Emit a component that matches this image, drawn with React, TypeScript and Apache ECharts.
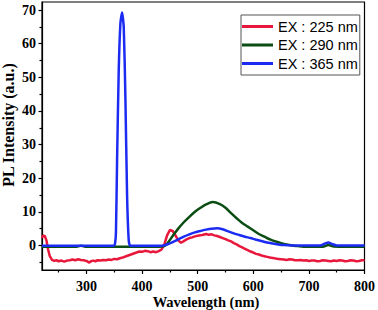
import React, { useEffect, useRef } from "react";
import * as echarts from "echarts";

const seriesNames = ["EX : 225 nm", "EX : 290 nm", "EX : 365 nm"];

const red225: [number, number][] = [
  [220, 2.2], [222, 3.0], [225, 2.8], [228, 1.5], [231, -1.2], [234, -3.2], [238, -4.3],
  [242, -4.6], [246, -4.4], [250, -4.7], [255, -4.5], [260, -4.8], [265, -4.5], [270, -4.4],
  [275, -4.2], [280, -4.4], [285, -4.1], [290, -4.3], [295, -4.4], [300, -4.6], [305, -5.1],
  [308, -4.7], [312, -4.5], [316, -4.7], [320, -4.4], [325, -4.5], [330, -4.3], [335, -4.4],
  [340, -4.2], [345, -4.3], [350, -4.0], [355, -4.1], [360, -3.8], [365, -3.6], [370, -3.3],
  [375, -3.0], [380, -2.7], [385, -2.4], [390, -2.1], [395, -1.8], [400, -1.9], [405, -1.6],
  [410, -1.7], [415, -2.0], [420, -1.8], [425, -2.0], [430, -1.7], [435, -1.2], [440, 0.3],
  [445, 3.0], [450, 4.6], [455, 4.3], [460, 3.0], [465, 1.5], [470, 0.8], [475, 1.3],
  [480, 1.8], [485, 2.2], [490, 2.4], [495, 2.7], [500, 2.9], [505, 3.0], [510, 3.2],
  [515, 3.4], [520, 3.2], [525, 3.3], [530, 3.0], [535, 2.8], [540, 2.5], [545, 2.2],
  [550, 1.9], [555, 1.5], [560, 1.2], [565, 0.7], [570, 0.3], [575, -0.2], [580, -0.6],
  [585, -1.0], [590, -1.4], [595, -1.8], [600, -2.1], [605, -2.5], [610, -2.7], [615, -3.0],
  [620, -3.2], [625, -3.4], [630, -3.6], [635, -3.7], [640, -3.9], [645, -4.0], [650, -4.1],
  [655, -4.2], [660, -4.3], [665, -4.1], [670, -4.2], [675, -4.4], [680, -4.4], [685, -4.3],
  [690, -4.5], [695, -4.4], [700, -4.6], [705, -4.5], [710, -4.5], [715, -4.7], [720, -4.6],
  [725, -4.4], [730, -4.5], [735, -4.6], [740, -4.7], [745, -4.5], [750, -4.6], [755, -4.4],
  [760, -4.5], [765, -4.7], [770, -4.6], [775, -4.4], [780, -4.5], [785, -4.7], [790, -4.6],
  [795, -4.4], [800, -4.4],
];

const green290: [number, number][] = [
  [220, -0.4], [280, -0.4], [290, -0.1], [300, -0.4], [430, -0.4], [440, -0.2], [445, 0.5],
  [455, 2.8], [465, 5.0], [475, 6.9], [485, 8.5], [495, 10.0], [505, 11.2], [515, 12.2],
  [527, 12.9], [540, 12.3], [550, 11.2], [560, 9.6], [570, 8.1], [580, 6.7], [590, 5.6],
  [600, 4.5], [610, 3.4], [620, 2.6], [630, 1.8], [640, 1.2], [650, 0.7], [660, 0.3],
  [670, 0.0], [680, -0.2], [690, -0.4], [725, -0.4], [735, 0.1], [745, -0.3], [800, -0.4],
];

const blue365: [number, number][] = [
  [220, -0.1], [348, -0.1], [351, 0.3], [353, 4], [355, 25], [358, 52], [361, 66], [364, 69.3],
  [367, 65], [370, 44], [373, 15], [376, 1.5], [379, -0.1], [435, -0.1], [445, 0.3],
  [455, 1.0], [465, 1.8], [475, 2.6], [485, 3.3], [495, 3.9], [505, 4.3], [515, 4.7],
  [525, 5.0], [535, 5.1], [545, 4.8], [555, 4.2], [565, 3.6], [575, 3.1], [585, 2.6],
  [595, 2.2], [605, 1.7], [615, 1.3], [625, 0.9], [635, 0.6], [645, 0.3], [655, 0.1],
  [670, 0], [720, 0], [728, 0.5], [735, 0.9], [742, 0.4], [750, 0], [800, 0],
];

const xMajorTicks = [300, 400, 500, 600, 700, 800];
const xMinorTicks = [250, 350, 450, 550, 650, 750];
const yMajorTicks = [0, 10, 20, 30, 40, 50, 60, 70];
const yMinorTicks = [-5, 5, 15, 25, 35, 45, 55, 65];

const colors = ["#e8183c", "#0b4d12", "#1c2bf2"];

export default function App() {
  const ref = useRef<HTMLDivElement>(null);
  useEffect(() => {
    if (!ref.current) return;
    const chart = echarts.init(ref.current, undefined, { renderer: "svg" });
    const serif = "'Liberation Serif', 'Times New Roman', serif";
    const xMin = 220, xMax = 800, yMin = -7.3, yMax = 72.4;
    const xBase = {
      type: "value" as const,
      min: xMin,
      max: xMax,
      position: "bottom" as const,
      splitLine: { show: false },
    };
    const yBase = {
      type: "value" as const,
      min: yMin,
      max: yMax,
      position: "left" as const,
      splitLine: { show: false },
    };
    chart.setOption({
      animation: false,
      grid: {
        left: 42, right: 12.5, top: 2, bottom: 40,
        show: true, borderColor: "#000", borderWidth: 1.2, containLabel: false,
      },
      legend: {
        orient: "vertical",
        left: 241,
        top: 15,
        icon: "rect",
        itemWidth: 31,
        itemHeight: 3,
        itemGap: 3.5,
        padding: [4, 2, 4, 1],
        borderColor: "#555",
        borderWidth: 1,
        textStyle: { fontFamily: "'Liberation Sans', Arial, sans-serif", fontSize: 14.5, color: "#000" },
        data: seriesNames,
      },
      xAxis: [
        {
          ...xBase,
          axisLine: { show: true, onZero: false, lineStyle: { color: "#000", width: 1.2 } },
          axisTick: { show: true, length: 4, customValues: xMajorTicks, lineStyle: { color: "#000", width: 1.2 } },
          axisLabel: {
            customValues: xMajorTicks, margin: 9, color: "#000",
            fontFamily: serif, fontWeight: "bold", fontSize: 14,
          },
        },
        {
          ...xBase,
          axisLine: { show: false, onZero: false },
          axisTick: { show: true, length: 2.5, customValues: xMinorTicks, lineStyle: { color: "#000", width: 1.2 } },
          axisLabel: { show: false },
        },
      ],
      yAxis: [
        {
          ...yBase,
          axisLine: { show: true, onZero: false, lineStyle: { color: "#000", width: 1.2 } },
          axisTick: { show: true, length: 3.5, customValues: yMajorTicks, lineStyle: { color: "#000", width: 1.2 } },
          axisLabel: {
            customValues: yMajorTicks, margin: 6, color: "#000",
            fontFamily: serif, fontWeight: "bold", fontSize: 14,
          },
        },
        {
          ...yBase,
          axisLine: { show: false, onZero: false },
          axisTick: { show: true, length: 2.5, customValues: yMinorTicks, lineStyle: { color: "#000", width: 1.2 } },
          axisLabel: { show: false },
        },
      ],
      graphic: [
        {
          type: "text",
          x: 8,
          y: 125,
          rotation: Math.PI / 2,
          style: {
            text: "PL Intensity (a.u.)",
            fontFamily: serif, fontWeight: "bold", fontSize: 16, fill: "#000",
            textAlign: "center", textVerticalAlign: "middle",
          },
        },
        {
          type: "text",
          x: 206,
          y: 302,
          style: {
            text: "Wavelength (nm)",
            fontFamily: serif, fontWeight: "bold", fontSize: 14.5, fill: "#000",
            textAlign: "center", textVerticalAlign: "middle",
          },
        },
      ],
      series: [
        {
          name: seriesNames[0], type: "line", data: red225, showSymbol: false, symbol: "none",
          lineStyle: { color: colors[0], width: 2.5 }, itemStyle: { color: colors[0] }, z: 2,
        },
        {
          name: seriesNames[1], type: "line", data: green290, showSymbol: false, symbol: "none", smooth: 0.3,
          lineStyle: { color: colors[1], width: 2.5 }, itemStyle: { color: colors[1] }, z: 3,
        },
        {
          name: seriesNames[2], type: "line", data: blue365, showSymbol: false, symbol: "none", smooth: 0.2,
          lineStyle: { color: colors[2], width: 2.5 }, itemStyle: { color: colors[2] }, z: 4,
        },
      ],
    });
    return () => chart.dispose();
  }, []);
  return (
    <div
      ref={ref}
      style={{ position: "absolute", left: 0, top: 0, width: 378, height: 310, background: "#fff" }}
    />
  );
}
